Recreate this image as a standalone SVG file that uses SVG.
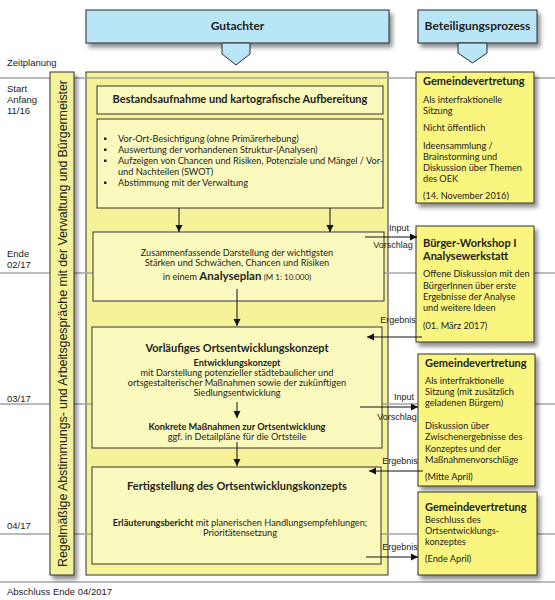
<svg xmlns="http://www.w3.org/2000/svg" width="555" height="600" viewBox="0 0 555 600">
<defs>
<filter id="sh" x="-20%" y="-20%" width="150%" height="150%">
<feDropShadow dx="3" dy="4" stdDeviation="2.2" flood-color="#000" flood-opacity="0.45"/>
</filter>
<marker id="ah" markerUnits="userSpaceOnUse" markerWidth="8" markerHeight="8" refX="7" refY="4" orient="auto">
<path d="M0,0.5 L7,4 L0,7.5 z" fill="#111"/>
</marker>
<style>
.hdr{fill:#b9e6f6;stroke:#2b2b2b;stroke-width:1}
.big{fill:#f6f29a;stroke:#333;stroke-width:1}
.inn{fill:#fbfabe;stroke:#333;stroke-width:1}
.rb{fill:#f9f57e;stroke:#333;stroke-width:1}
.bar{fill:#f6f29a;stroke:#333;stroke-width:1}
.gl{stroke:#a3a3a3;stroke-width:1.5;fill:none}
.cn{stroke:#111;stroke-width:1;fill:none;marker-end:url(#ah)}
text{font-family:Lato,"Open Sans",sans-serif;fill:#222}
.ht{font-size:12px;font-weight:bold;text-anchor:middle}
.tl{font-family:"Liberation Sans",Arial,sans-serif;font-size:9.5px}
.bt{font-size:11px;font-weight:bold}
.tx{font-size:9.2px}
.c{text-anchor:middle}
.b{font-weight:bold}
.lb{font-family:"Liberation Sans",Arial,sans-serif;font-size:9px;text-anchor:middle}
</style>
</defs>

<g id="header-gutachter">
<rect class="hdr" x="86" y="10" width="303" height="33" filter="url(#sh)"/>
<polygon class="hdr" points="222,43 250,43 250,54 236,65 222,54"/>
<text class="ht" x="237.5" y="30">Gutachter</text>
</g>
<g id="header-beteiligung">
<rect class="hdr" x="418" y="10" width="119" height="33" filter="url(#sh)"/>
<polygon class="hdr" points="458,43 487,43 487,53 472.5,63 458,53"/>
<text class="ht" x="477.5" y="30">Beteiligungsprozess</text>
</g>

<g id="gutachter-area">
<rect class="big" x="86" y="72" width="302" height="503"/>
</g>

<g id="timeline">
<line class="gl" x1="0" y1="78" x2="555" y2="78"/>
<line class="gl" x1="0" y1="273" x2="555" y2="273"/>
<line class="gl" x1="0" y1="404" x2="555" y2="404"/>
<line class="gl" x1="0" y1="534" x2="555" y2="534"/>
<line class="gl" x1="0" y1="582" x2="555" y2="582"/>
<text class="tl" x="7" y="66">Zeitplanung</text>
<text class="tl" x="7" y="92">Start</text>
<text class="tl" x="7" y="103">Anfang</text>
<text class="tl" x="7" y="114">11/16</text>
<text class="tl" x="7" y="257">Ende</text>
<text class="tl" x="7" y="268">02/17</text>
<text class="tl" x="7" y="402">03/17</text>
<text class="tl" x="7" y="529">04/17</text>
<text class="tl" x="7" y="595">Abschluss Ende 04/2017</text>
</g>

<g id="abstimmung-bar">
<rect class="bar" x="50" y="72" width="24" height="503" filter="url(#sh)"/>
<text transform="translate(66.5,323.5) rotate(-90)" style="font-family:'Liberation Sans',Arial,sans-serif;font-size:12.5px" text-anchor="middle" textLength="487">Regelmäßige Abstimmungs- und Arbeitsgespräche mit der Verwaltung und Bürgermeister</text>
</g>

<g id="bestandsaufnahme">
<rect class="inn" x="97" y="86" width="286" height="28"/>
<text class="bt c" x="240" y="102.5">Bestandsaufnahme und kartografische Aufbereitung</text>
</g>

<g id="bestand-liste">
<rect class="inn" x="97" y="119" width="286" height="89"/>
<rect x="104" y="137.5" width="2.5" height="2.5" fill="#222"/>
<rect x="104" y="148.5" width="2.5" height="2.5" fill="#222"/>
<rect x="104" y="159.5" width="2.5" height="2.5" fill="#222"/>
<rect x="104" y="181.5" width="2.5" height="2.5" fill="#222"/>
<text class="tx" x="118" y="142">Vor-Ort-Besichtigung (ohne Primärerhebung)</text>
<text class="tx" x="118" y="153">Auswertung der vorhandenen Struktur-(Analysen)</text>
<text class="tx" x="118" y="164">Aufzeigen von Chancen und Risiken, Potenziale und Mängel / Vor-</text>
<text class="tx" x="118" y="175">und Nachteilen (SWOT)</text>
<text class="tx" x="118" y="186">Abstimmung mit der Verwaltung</text>
</g>

<g id="analyseplan">
<rect class="inn" x="93" y="232" width="291" height="69"/>
<text class="tx c" x="237" y="256">Zusammenfassende Darstellung der wichtigsten</text>
<text class="tx c" x="237" y="266">Stärken und Schwächen, Chancen und Risiken</text>
<text class="tx c" x="237" y="279.5">in einem <tspan style="font-size:11.5px;font-weight:bold">Analyseplan</tspan> <tspan style="font-size:8px">(M 1: 10.000)</tspan></text>
</g>

<g id="vorlaeufiges-oek">
<rect class="inn" x="92" y="327" width="290" height="121"/>
<text class="bt c" x="237" y="352">Vorläufiges Ortsentwicklungskonzept</text>
<text class="tx c b" x="237" y="366">Entwicklungskonzept</text>
<text class="tx c" x="237" y="376">mit Darstellung potenzieller städtebaulicher und</text>
<text class="tx c" x="237" y="386">ortsgestalterischer Maßnahmen sowie der zukünftigen</text>
<text class="tx c" x="237" y="395.5">Siedlungsentwicklung</text>
<text class="tx c b" x="237" y="430">Konkrete Maßnahmen zur Ortsentwicklung</text>
<text class="tx c" x="237" y="440">ggf. in Detailpläne für die Ortsteile</text>
</g>

<g id="fertigstellung">
<rect class="inn" x="92" y="467" width="289" height="97"/>
<text class="bt c" x="237" y="490">Fertigstellung des Ortsentwicklungskonzepts</text>
<text class="tx c" x="240" y="526"><tspan class="b">Erläuterungsbericht</tspan> mit planerischen Handlungsempfehlungen;</text>
<text class="tx c" x="240" y="536">Prioritätensetzung</text>
</g>

<g id="gv1">
<rect class="rb" x="416" y="72" width="118" height="131" filter="url(#sh)"/>
<text class="bt" x="423" y="85">Gemeindevertretung</text>
<text class="tx" x="423" y="103">Als interfraktionelle</text>
<text class="tx" x="423" y="114">Sitzung</text>
<text class="tx" x="423" y="131">Nicht öffentlich</text>
<text class="tx" x="423" y="149">Ideensammlung /</text>
<text class="tx" x="423" y="160">Brainstorming und</text>
<text class="tx" x="423" y="170.5">Diskussion über Themen</text>
<text class="tx" x="423" y="181.5">des OEK</text>
<text class="tx" x="423" y="199">(14. November 2016)</text>
</g>

<g id="workshop">
<rect class="rb" x="416" y="226" width="118" height="116" filter="url(#sh)"/>
<text class="bt" x="423" y="247">Bürger-Workshop I</text>
<text class="bt" x="423" y="260">Analysewerkstatt</text>
<text class="tx" x="423" y="277">Offene Diskussion mit den</text>
<text class="tx" x="423" y="289">BürgerInnen über erste</text>
<text class="tx" x="423" y="300">Ergebnisse der Analyse</text>
<text class="tx" x="423" y="311">und weitere Ideen</text>
<text class="tx" x="423" y="329">(01. März 2017)</text>
</g>

<g id="gv2">
<rect class="rb" x="418" y="354" width="117" height="132" filter="url(#sh)"/>
<text class="bt" x="425" y="367">Gemeindevertretung</text>
<text class="tx" x="425" y="384">Als interfraktionelle</text>
<text class="tx" x="425" y="395">Sitzung (mit zusätzlich</text>
<text class="tx" x="425" y="406">geladenen Bürgern)</text>
<text class="tx" x="425" y="429">Diskussion über</text>
<text class="tx" x="425" y="440">Zwischenergebnisse des</text>
<text class="tx" x="425" y="452">Konzeptes und der</text>
<text class="tx" x="425" y="463">Maßnahmenvorschläge</text>
<text class="tx" x="425" y="480">(Mitte April)</text>
</g>

<g id="gv3">
<rect class="rb" x="418" y="492" width="119" height="83" filter="url(#sh)"/>
<text class="bt" x="425" y="511">Gemeindevertretung</text>
<text class="tx" x="425" y="522.5">Beschluss des</text>
<text class="tx" x="425" y="534">Ortsentwicklungs-</text>
<text class="tx" x="425" y="545">konzeptes</text>
<text class="tx" x="425" y="562">(Ende April)</text>
</g>

<g id="connectors">
<path class="cn" d="M179,208 V232"/>
<path class="cn" d="M330,208 V232"/>
<path class="cn" d="M237,289 V326"/>
<path class="cn" d="M237,402 V418"/>
<path class="cn" d="M237,442 V466"/>
<path class="cn" d="M365,237 H417"/>
<path class="cn" d="M422,337 H367"/>
<path class="cn" d="M360,407 H418"/>
<path class="cn" d="M423,471 H369"/>
<path class="cn" d="M366,557 H418"/>
<text class="lb" x="399" y="231">Input</text>
<text class="lb" x="393" y="248">Vorschlag</text>
<text class="lb" x="398" y="323">Ergebnis</text>
<text class="lb" x="404" y="400">Input</text>
<text class="lb" x="397" y="420">Vorschlag</text>
<text class="lb" x="400" y="464">Ergebnis</text>
<text class="lb" x="400" y="550">Ergebnis</text>
</g>
</svg>
